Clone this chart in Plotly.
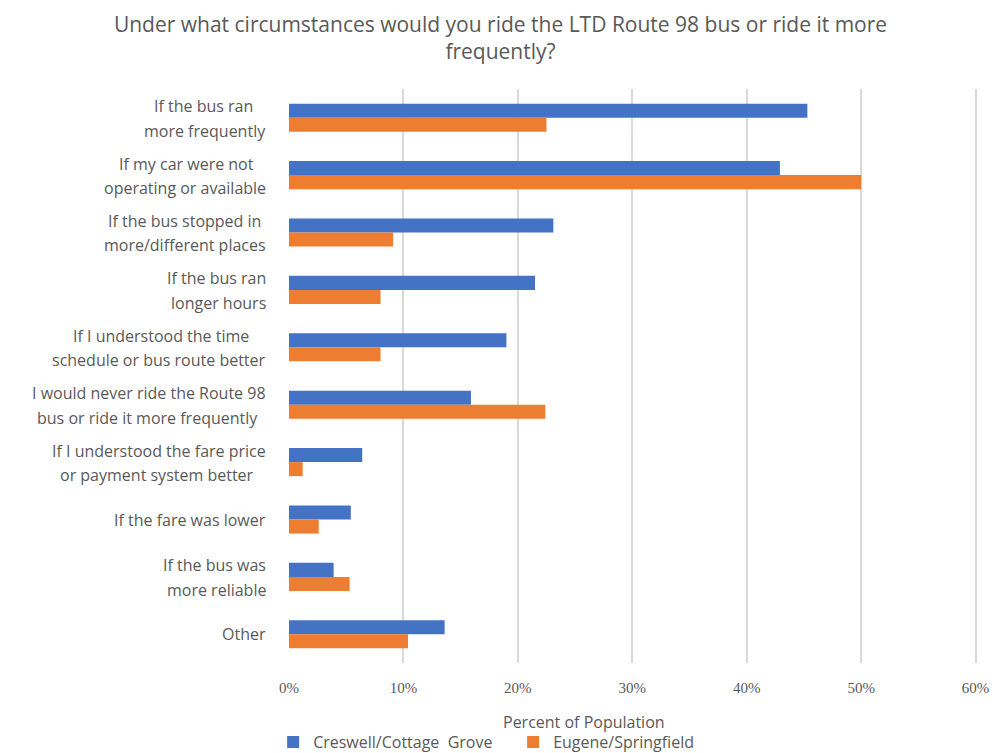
import plotly.graph_objects as go

NB = "\u00a0"
categories = [
    "If the bus ran" + NB * 3 + "<br>more frequently",
    "If my car were not" + NB * 3 + "<br>operating or available",
    "If the bus stopped in" + NB + "<br>more/different places",
    "If the bus ran<br>longer hours",
    "If I understood the time" + NB * 4 + "<br>schedule or bus route better",
    "I would never ride the Route 98<br>bus or ride it more frequently" + NB * 2,
    "If I understood the fare price<br>or payment system better" + NB * 3,
    "If the fare was lower",
    "If the bus was<br>more reliable",
    "Other",
]
creswell = [45.3, 42.9, 23.1, 21.5, 19.0, 15.9, 6.4, 5.4, 3.9, 13.6]
eugene = [22.5, 50.0, 9.1, 8.0, 8.0, 22.4, 1.2, 2.6, 5.3, 10.4]
series_names = ["Creswell/Cottage  Grove", "Eugene/Springfield"]
x_ticks = [0, 10, 20, 30, 40, 50, 60]
x_tick_labels = ["0%", "10%", "20%", "30%", "40%", "50%", "60%"]
x_title = "Percent of Population"

text_color = "#595959"
font_fam = "Open Sans, Noto Sans, sans-serif"
label_size = 16

fig = go.Figure()
fig.add_trace(go.Bar(
    y=categories, x=creswell, orientation="h", name=series_names[0],
    marker=dict(color="#4472C4", line=dict(width=0)),
))
fig.add_trace(go.Bar(
    y=categories, x=eugene, orientation="h", name=series_names[1],
    marker=dict(color="#ED7D31", line=dict(width=0)),
))

# category labels drawn line by line to reproduce the wide line spacing
annotations = []
for cat in categories:
    lines = cat.split("<br>")
    if len(lines) == 1:
        shifts = [0]
    else:
        shifts = [11.5, -12.8]
    for line, sh in zip(lines, shifts):
        annotations.append(dict(
            text=line, xref="paper", x=0, xanchor="right", xshift=-21,
            yref="y", y=cat, yanchor="middle", yshift=sh, showarrow=False,
            font=dict(size=label_size, color=text_color, family=font_fam),
        ))

# x-axis title (placed left of centre as in the reference)
annotations.append(dict(
    text=x_title, xref="paper", x=0.4275, xanchor="center",
    yref="paper", y=0, yanchor="middle", yshift=-59, showarrow=False,
    font=dict(size=16, color=text_color, family=font_fam),
))

fig.update_layout(
    width=1001, height=753,
    paper_bgcolor="white", plot_bgcolor="white",
    margin=dict(l=289, r=22, t=89, b=90, autoexpand=False),
    barmode="group", bargap=0.51, bargroupgap=0,
    font=dict(family=font_fam, color=text_color, size=13),
    title=dict(
        text="Under what circumstances would you ride the LTD Route 98 bus or ride it more<br>frequently?",
        x=0.5, xanchor="center", xref="container", y=0.9575, yanchor="middle", yref="container",
        font=dict(size=21, color=text_color, family=font_fam),
    ),
    legend=dict(
        orientation="h", x=-0.023, xanchor="left", y=-0.138, yanchor="middle",
        font=dict(size=16, color=text_color, family=font_fam), traceorder="normal",
        entrywidth=195, entrywidthmode="pixels", bgcolor="rgba(0,0,0,0)",
    ),
    showlegend=True,
    annotations=annotations,
)
fig.update_xaxes(
    range=[0, 60.3], tickvals=x_ticks, ticktext=x_tick_labels,
    showgrid=True, gridcolor="#d9d9d9", gridwidth=1.5,
    zeroline=False, showline=False, ticks="", automargin=False,
    tickfont=dict(family="Liberation Serif, serif", size=15, color=text_color),
    ticklabelstandoff=14,
    fixedrange=True,
)
fig.update_yaxes(
    autorange="reversed", showgrid=False, zeroline=False, showline=False,
    ticks="", showticklabels=False, automargin=False,
    fixedrange=True,
)

fig.write_html("out.html")
